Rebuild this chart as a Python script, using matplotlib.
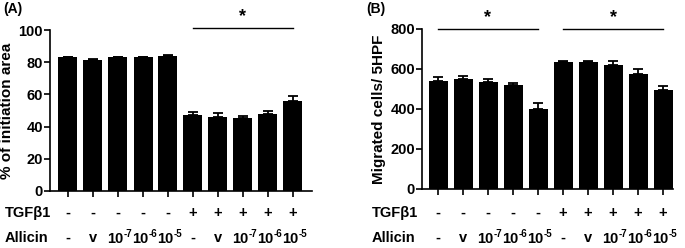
import numpy as np
import matplotlib.pyplot as plt
import matplotlib.transforms as mtransforms

plt.rcParams['font.family'] = ['Liberation Sans', 'DejaVu Sans']
plt.rcParams['font.weight'] = 'bold'

# Group labels shown below both panels ("10^-7" etc. split into base/exponent)
tgf_labels = ['-', '-', '-', '-', '-', '+', '+', '+', '+', '+']
allicin_base = ['-', 'v', '10', '10', '10', '-', 'v', '10', '10', '10']
allicin_exp = ['', '', '-7', '-6', '-5', '', '', '-7', '-6', '-5']

# Panel A: % of initiation area
area_mean = [83, 81.5, 83, 83, 84, 47, 46, 45.5, 48, 56]
area_err = [0.5, 0.7, 0.4, 0.4, 0.4, 2.2, 2.2, 1.0, 1.5, 3.0]

# Panel B: migrated cells / 5HPF
cells_mean = [540, 548, 533, 520, 400, 637, 636, 622, 575, 497]
cells_err = [20, 15, 18, 12, 28, 5, 4, 18, 25, 18]

W, H = 685, 248
fig = plt.figure(figsize=(W / 100, H / 100), dpi=100)


def make_panel(rect, xlim, means, errs, ylim, yticks, ylabel):
    ax = fig.add_axes(rect)
    x = np.arange(len(means))
    ax.bar(x, means, width=0.76, color='black', zorder=2)
    ax.errorbar(x, means, yerr=[np.zeros(len(errs)), errs], fmt='none',
                ecolor='black', elinewidth=1.3, capsize=3.5, capthick=1.3, zorder=1)
    ax.set_xlim(*xlim)
    ax.set_ylim(*ylim)
    ax.set_yticks(yticks)
    ax.set_xticks(x)
    ax.set_xticklabels([])
    ax.tick_params(axis='x', length=4, width=1.2, direction='out')
    ax.tick_params(axis='y', length=4, width=1.2, labelsize=10.5, pad=1)
    for lab in ax.get_yticklabels():
        lab.set_fontweight('bold')
    for s in ['top', 'right']:
        ax.spines[s].set_visible(False)
    for s in ['left', 'bottom']:
        ax.spines[s].set_linewidth(1.2)
    ax.set_ylabel(ylabel, fontsize=11, fontweight='bold', labelpad=3)

    trans = mtransforms.blended_transform_factory(ax.transData, fig.transFigure)
    for i in range(len(means)):
        ax.text(i, 1 - 213 / H, tgf_labels[i], transform=trans, ha='center',
                va='center', fontsize=10.5, fontweight='bold', clip_on=False)
        if allicin_exp[i]:
            ax.text(i + 0.22, 1 - 239 / H, allicin_base[i], transform=trans,
                    ha='right', va='center', fontsize=10.5, fontweight='bold')
            ax.text(i + 0.22, 1 - 234 / H, allicin_exp[i], transform=trans,
                    ha='left', va='center', fontsize=7, fontweight='bold')
        else:
            ax.text(i, 1 - 238 / H, allicin_base[i], transform=trans, ha='center',
                    va='center', fontsize=10.5, fontweight='bold')
    return ax


def sig_bar(ax, x0, x1, y_px):
    trans = mtransforms.blended_transform_factory(ax.transData, fig.transFigure)
    ax.plot([x0, x1], [1 - y_px / H] * 2, color='black', lw=1.0,
            transform=trans, clip_on=False)
    ax.text((x0 + x1) / 2, 1 - (y_px - 11) / H, '*', transform=trans,
            ha='center', va='center', fontsize=13, fontweight='bold')


# Panel A
axA = make_panel([50 / W, 1 - 191 / H, 262 / W, 161 / H], (-0.72, 9.76),
                 area_mean, area_err, (0, 100), [0, 20, 40, 60, 80, 100],
                 '% of initiation area')
sig_bar(axA, 5, 9, 28)

# Panel B
axB = make_panel([422 / W, 1 - 189 / H, 251 / W, 160 / H], (-0.64, 9.4),
                 cells_mean, cells_err, (0, 800), [0, 200, 400, 600, 800],
                 'Migrated cells/ 5HPF')
sig_bar(axB, 0, 4, 29)
sig_bar(axB, 5, 9, 29)

# row labels and panel tags
for x0 in [5, 372]:
    fig.text(x0 / W, 1 - 213 / H, 'TGFβ1', ha='left', va='center',
             fontsize=10.5, fontweight='bold')
    fig.text(x0 / W, 1 - 238 / H, 'Allicin', ha='left', va='center',
             fontsize=10.5, fontweight='bold')
fig.text(3 / W, 1 - 9 / H, '(A)', ha='left', va='center', fontsize=10, fontweight='bold')
fig.text(366 / W, 1 - 9 / H, '(B)', ha='left', va='center', fontsize=10, fontweight='bold')

fig.savefig('out.png', dpi=100)
